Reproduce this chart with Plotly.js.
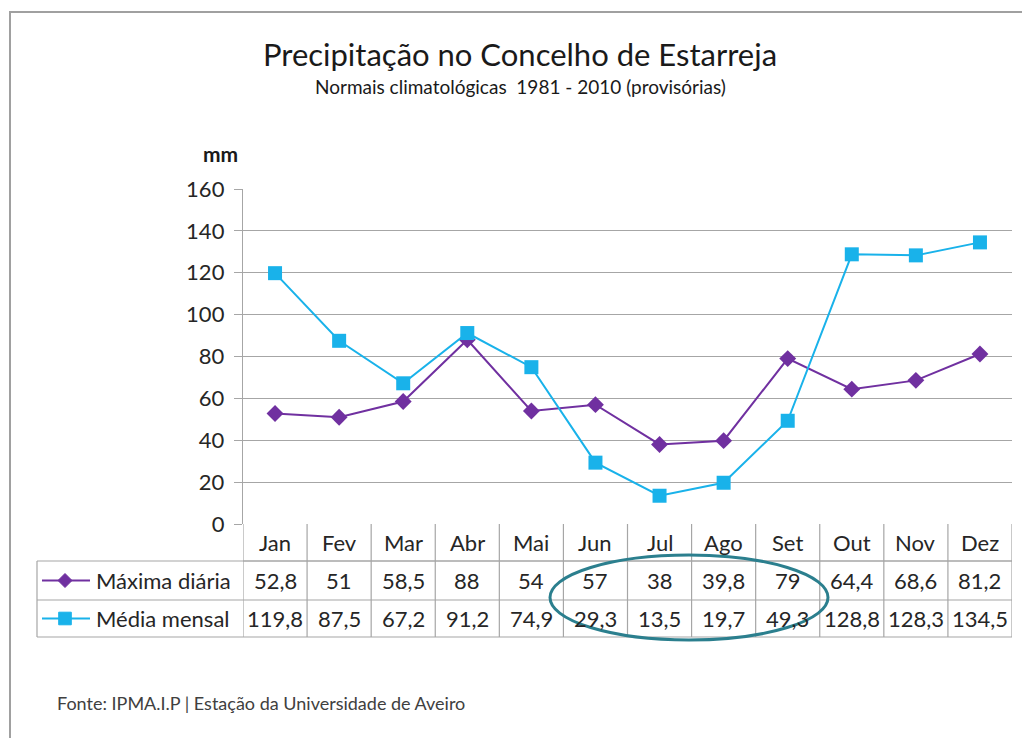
<!DOCTYPE html>
<html>
<head>
<meta charset="utf-8">
<script src="https://cdn.plot.ly/plotly-3.0.1.min.js"></script>
<style>html,body{margin:0;padding:0;background:#fff;}#chart{width:1022px;height:738px;}</style>
</head>
<body>
<div id="chart"></div>
<script>
// ---- data ----
const months = ["Jan","Fev","Mar","Abr","Mai","Jun","Jul","Ago","Set","Out","Nov","Dez"];
const maximaDiaria = [52.8, 51, 58.5, 88, 54, 57, 38, 39.8, 79, 64.4, 68.6, 81.2];
const mediaMensal = [119.8, 87.5, 67.2, 91.2, 74.9, 29.3, 13.5, 19.7, 49.3, 128.8, 128.3, 134.5];
const seriesNames = ["Máxima diária", "Média mensal"];
const yTicks = [0, 20, 40, 60, 80, 100, 120, 140, 160];

// ---- geometry helpers (pixel -> paper) ----
const W = 1022, H = 738;
const M = {l: 243, r: 10, t: 189, b: 214};
const PW = W - M.l - M.r, PH = H - M.t - M.b;
const px = X => (X - M.l) / PW;
const py = Y => (H - M.b - Y) / PH;

const PURPLE = "#7030a0", CYAN = "#19b2ea", GRID = "#a6a6a6", TXT = "#262626";
const FONT = "Lato, 'Open Sans', sans-serif";

const traces = [
  {x: months, y: maximaDiaria, name: seriesNames[0], type: "scatter", mode: "lines+markers",
   line: {color: PURPLE, width: 2}, marker: {symbol: "diamond", size: 13, color: PURPLE}},
  {x: months, y: mediaMensal, name: seriesNames[1], type: "scatter", mode: "lines+markers",
   line: {color: CYAN, width: 2}, marker: {symbol: "square", size: 14, color: CYAN}}
];

const fmt = v => String(v).replace(".", ",");

const rowHeader = [py(524), py(561)];
const row1 = [py(561), py(600)];
const row2 = [py(600), py(637)];
const xLeft = px(37);
const TFS = 22;

const shapes = [];
const annotations = [];

// outer frame
shapes.push({type: "rect", xref: "paper", yref: "paper", x0: px(10), x1: px(1040), y0: py(770), y1: py(12),
  line: {color: "#a0a0a0", width: 2}, layer: "below"});

// table horizontal lines
[ [0, py(561)], [xLeft, py(561)], [xLeft, py(600)], [xLeft, py(637)] ].forEach(([x0, y]) => {
  shapes.push({type: "line", xref: "paper", yref: "paper", x0: x0, x1: 1, y0: y, y1: y,
    line: {color: GRID, width: 1.2}});
});
// table vertical lines (category boundaries)
for (let i = 0; i <= months.length; i++) {
  shapes.push({type: "line", xref: "x", yref: "paper", x0: i - 0.5, x1: i - 0.5, y0: py(524), y1: py(637),
    line: {color: GRID, width: 1.2}});
}
// left edge of legend column
shapes.push({type: "line", xref: "paper", yref: "paper", x0: xLeft, x1: xLeft, y0: py(561), y1: py(637),
  line: {color: GRID, width: 1.2}});

// month header + values
months.forEach((m, i) => {
  annotations.push({xref: "x", yref: "paper", x: i, y: (rowHeader[0] + rowHeader[1]) / 2, text: m,
    showarrow: false, font: {family: FONT, size: TFS, color: TXT}, yanchor: "middle"});
  annotations.push({xref: "x", yref: "paper", x: i, y: (row1[0] + row1[1]) / 2, text: fmt(maximaDiaria[i]),
    showarrow: false, font: {family: FONT, size: TFS, color: TXT}, yanchor: "middle"});
  annotations.push({xref: "x", yref: "paper", x: i, y: (row2[0] + row2[1]) / 2, text: fmt(mediaMensal[i]),
    showarrow: false, font: {family: FONT, size: TFS, color: TXT}, yanchor: "middle"});
});

// legend keys in table
const keyRows = [[(row1[0] + row1[1]) / 2, PURPLE, "diamond"], [(row2[0] + row2[1]) / 2, CYAN, "square"]];
keyRows.forEach(([yc, col, sym], k) => {
  shapes.push({type: "line", xref: "paper", yref: "paper", x0: px(42), x1: px(90), y0: yc, y1: yc,
    line: {color: col, width: 2}});
  const cx = px(65), dx = 7 / PW, dy = 7 / PH;
  if (sym === "diamond") {
    shapes.push({type: "path", xref: "paper", yref: "paper",
      path: `M ${cx - dx} ${yc} L ${cx} ${yc + dy} L ${cx + dx} ${yc} L ${cx} ${yc - dy} Z`,
      fillcolor: col, line: {color: col, width: 1}});
  } else {
    shapes.push({type: "rect", xref: "paper", yref: "paper", x0: cx - dx * 0.9, x1: cx + dx * 0.9,
      y0: yc - dy * 0.9, y1: yc + dy * 0.9, fillcolor: col, line: {color: col, width: 1}});
  }
  annotations.push({xref: "paper", yref: "paper", x: px(94), y: yc, xanchor: "left", yanchor: "middle",
    text: seriesNames[k], showarrow: false, font: {family: FONT, size: TFS, color: TXT}});
});

// highlight ellipse
shapes.push({type: "circle", xref: "paper", yref: "paper", x0: px(550), x1: px(828), y0: py(640), y1: py(555),
  line: {color: "#2b7f8e", width: 3}});

// subtitle, unit, source
annotations.push({xref: "paper", yref: "paper", x: px(520), y: py(87), text: "Normais climatológicas  1981 - 2010 (provisórias)",
  showarrow: false, font: {family: FONT, size: 19, color: "#1a1a1a"}, xanchor: "center", yanchor: "middle"});
annotations.push({xref: "paper", yref: "paper", x: px(220), y: py(153), text: "<b>mm</b>",
  showarrow: false, font: {family: FONT, size: 21, color: "#1a1a1a"}, xanchor: "center", yanchor: "middle"});
annotations.push({xref: "paper", yref: "paper", x: px(55), y: py(703), text: "Fonte: IPMA.I.P | Estação da Universidade de Aveiro",
  showarrow: false, font: {family: FONT, size: 18, color: "#404040"}, xanchor: "left", yanchor: "middle"});

const layout = {
  width: W, height: H,
  margin: M,
  paper_bgcolor: "#ffffff", plot_bgcolor: "#ffffff",
  showlegend: false,
  title: {text: "Precipitação no Concelho de Estarreja", xref: "paper", x: px(520), xanchor: "center",
    yref: "container", y: 1 - 55 / H, yanchor: "middle", font: {family: FONT, size: 31, color: "#1a1a1a"}},
  xaxis: {type: "category", range: [-0.5, 11.5], showticklabels: false, showgrid: false, zeroline: false,
    showline: false, ticks: ""},
  yaxis: {range: [0, 160], tickvals: yTicks, ticktext: yTicks.map(String), showgrid: true, gridcolor: GRID,
    gridwidth: 1.2, zeroline: false, showline: true, linecolor: GRID, linewidth: 1.2, ticks: "outside",
    ticklen: 8, tickcolor: GRID, tickfont: {family: FONT, size: 22, color: TXT}, ticklabelstandoff: 5},
  shapes: shapes,
  annotations: annotations
};

Plotly.newPlot("chart", traces, layout, {displayModeBar: false, staticPlot: true});
</script>
</body>
</html>
